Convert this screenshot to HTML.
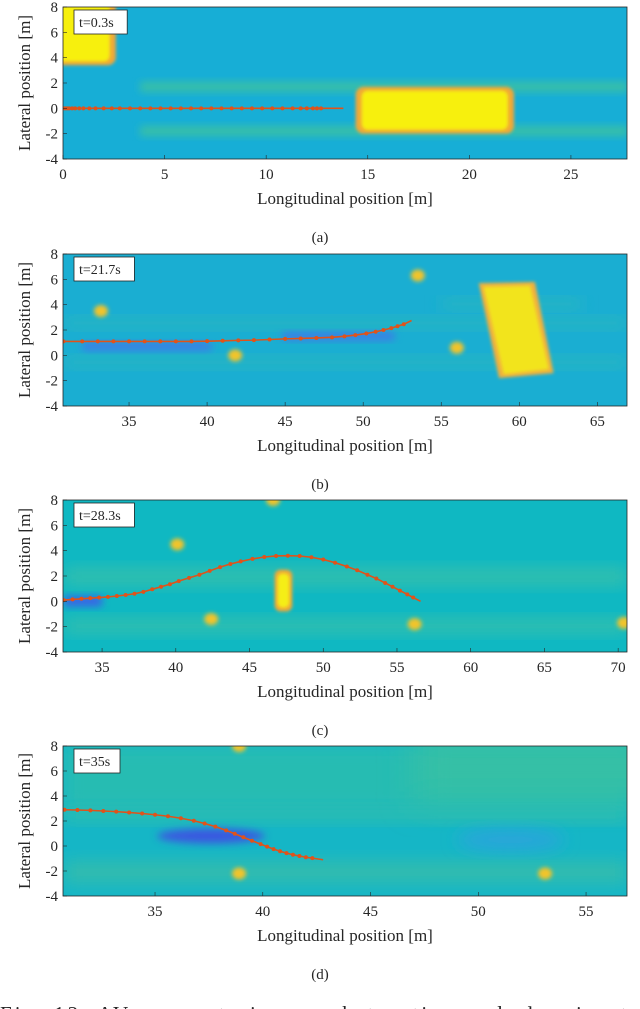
<!DOCTYPE html>
<html><head><meta charset="utf-8"><style>
html,body{margin:0;padding:0;background:#fff;width:640px;height:1009px;overflow:hidden}
svg text{font-family:"Liberation Serif",serif;fill:#262626}
</style></head><body>
<svg id="fig" width="640" height="1009" viewBox="0 0 640 1009" xmlns="http://www.w3.org/2000/svg">
<defs>
<filter id="b1" x="-50%" y="-50%" width="200%" height="200%"><feGaussianBlur stdDeviation="1.5"/></filter>
<filter id="b2" x="-50%" y="-50%" width="200%" height="200%"><feGaussianBlur stdDeviation="2"/></filter>
<filter id="b4" x="-50%" y="-50%" width="200%" height="200%"><feGaussianBlur stdDeviation="4"/></filter>
<filter id="b8" x="-50%" y="-50%" width="200%" height="200%"><feGaussianBlur stdDeviation="8"/></filter>
<filter id="b16" x="-50%" y="-50%" width="200%" height="200%"><feGaussianBlur stdDeviation="16"/></filter>
</defs>
<text x="0" y="1021" font-size="21" textLength="640" lengthAdjust="spacing">Fig. 13: AV encountering an obstruction and planning to</text>
</svg>
<script>
// Trajectory data (longitudinal x [m], lateral y [m])
const trajA_x = [0,0.1,0.2,0.3,0.45,0.6,0.8,1.0,1.3,1.6,2.0,2.4,2.8,3.3,3.8,4.3,4.8,5.3,5.8,6.3,6.8,7.3,7.8,8.3,8.8,9.3,9.8,10.3,10.8,11.3,11.7,12.0,12.3,12.5,12.7,13.8];
const trajA_y = [0,0,0,0,0,0,0,0,0,0,0,0,0,0,0,0,0,0,0,0,0,0,0,0,0,0,0,0,0,0,0,0,0,0,0,0];
const trajB_x = [30.8,32,33,34,35,36,37,38,39,40,41,42,43,44,45,46,47,48,48.8,49.5,50.2,50.8,51.3,51.8,52.2,52.6,53.1];
const trajB_y = [1.1,1.1,1.1,1.1,1.1,1.1,1.1,1.1,1.1,1.12,1.15,1.18,1.2,1.25,1.3,1.33,1.37,1.42,1.5,1.6,1.72,1.86,2.0,2.15,2.3,2.45,2.75];
const trajC_x = [32.4,33,33.6,34.2,34.8,35.4,36,36.6,37.2,37.8,38.4,39,39.6,40.2,40.9,41.6,42.3,43,43.7,44.4,45.2,46,46.8,47.6,48.4,49.2,50,50.8,51.6,52.3,53,53.6,54.2,54.7,55.2,55.7,56.1,56.6];
const trajC_y = [0.1,0.15,0.2,0.25,0.3,0.35,0.42,0.5,0.6,0.75,0.95,1.15,1.35,1.6,1.85,2.1,2.4,2.7,2.95,3.15,3.35,3.5,3.58,3.6,3.58,3.48,3.3,3.05,2.75,2.45,2.1,1.8,1.45,1.15,0.85,0.55,0.3,0.0];
const trajD_x = [30.8,31.4,32,32.6,33.2,33.8,34.4,35,35.6,36.2,36.8,37.3,37.8,38.3,38.7,39.1,39.5,39.9,40.2,40.5,40.8,41.1,41.4,41.7,42,42.3,42.8];
const trajD_y = [2.9,2.88,2.85,2.8,2.75,2.68,2.6,2.5,2.38,2.22,2.02,1.8,1.55,1.25,0.98,0.7,0.42,0.15,-0.05,-0.25,-0.42,-0.57,-0.7,-0.8,-0.9,-0.97,-1.1];
const yTicks = [-4,-2,0,2,4,6,8];
const xTicksA = [0,5,10,15,20,25];
const xTicksB = [35,40,45,50,55,60,65];
const xTicksC = [35,40,45,50,55,60,65,70];
const xTicksD = [35,40,45,50,55];
const labels = ["t=0.3s","t=21.7s","t=28.3s","t=35s"];
const captions = ["(a)","(b)","(c)","(d)"];

const NS="http://www.w3.org/2000/svg";
const svg=document.getElementById('fig');
function mk(tag,attrs,parent){const e=document.createElementNS(NS,tag);for(const k in attrs)e.setAttribute(k,attrs[k]);(parent||svg).appendChild(e);return e;}

const panels=[
 {id:'a',top:7,bot:159,x0:0,x1:27.76,bg:'#17aed6',xt:xTicksA,tx:trajA_x,ty:trajA_y,
  shapes:[
   ['rect',3.8,1.3,27.8,2.1,'#38bfa8','b4',0],
   ['rect',3.8,-2.2,27.8,-1.4,'#38bfa8','b4',0],
   ['rect',-1,3.4,2.6,9,'#f0a838','b1',8],
   ['rect',-1,3.7,2.3,9,'#f7f010','b1',6],
   ['rect',14.4,-2.0,22.2,1.7,'#f0a838','b1',8],
   ['rect',14.7,-1.7,21.9,1.4,'#f7f010','b1',6]]},
 {id:'b',top:254,bot:406,x0:30.77,x1:66.9,bg:'#1aaed2',xt:xTicksB,tx:trajB_x,ty:trajB_y,
  shapes:[
   ['rect',30.8,2.2,66.9,2.9,'#2bb8bb','b8',0],
   ['rect',30.8,-0.9,66.9,-0.2,'#2bb8bb','b8',0],
   ['rect',55,3.7,64,4.4,'#2bb8bb','b8',0],
   ['rect',32,0.4,40.3,1.0,'#3f78e8','b4',2],
   ['rect',44.8,1.2,52,1.8,'#3f78e8','b4',2],
   ['circ',33.2,3.5,0.7,'#f1c42a','b2'],
   ['circ',41.8,0.0,0.7,'#f1c42a','b2'],
   ['circ',53.5,6.3,0.7,'#f1c42a','b2'],
   ['circ',56,0.6,0.7,'#f1c42a','b2'],
   ['poly',[[57.4,5.7],[61.0,5.8],[62.2,-1.4],[58.7,-1.8]],'#f0b040','b1'],
   ['poly',[[57.7,5.4],[60.7,5.5],[61.9,-1.1],[59.0,-1.5]],'#f2e41e','b1']]},
 {id:'c',top:500,bot:652,x0:32.35,x1:70.6,bg:'#0fb8c2',xt:xTicksC,tx:trajC_x,ty:trajC_y,
  shapes:[
   ['rect',32.4,1.3,70.6,2.6,'#35c0ac','b8',0],
   ['rect',32.4,-2.5,70.6,-1.4,'#35c0ac','b8',0],
   ['rect',32.4,-0.4,35,0.4,'#3a60e8','b4',2],
   ['circ',40.1,4.5,0.7,'#f1c42a','b2'],
   ['circ',46.6,8,0.7,'#f1c42a','b2'],
   ['circ',42.4,-1.4,0.7,'#f1c42a','b2'],
   ['circ',56.2,-1.8,0.7,'#f1c42a','b2'],
   ['circ',70.4,-1.7,0.7,'#f1c42a','b2'],
   ['rect',46.7,-0.8,47.9,2.5,'#f0a838','b1',6],
   ['rect',46.9,-0.5,47.7,2.2,'#f5ee14','b1',5]]},
 {id:'d',top:746,bot:896,x0:30.73,x1:56.9,bg:'#15b6c6',xt:xTicksD,tx:trajD_x,ty:trajD_y,
  shapes:[
   ['rect',30.8,3.0,56.9,8.0,'#25bcb2','b8',0],
   ['rect',47,3.5,60,9,'#35c0a6','b16',0],
   ['rect',30.8,-3,56.9,-1.2,'#30bcae','b8',0],
   ['rect',30.8,2.0,56.9,3.0,'#2fbeae','b8',0],
   ['ell',37.6,0.8,2.5,0.6,'#3a58e0','b4'],
   ['ell',51.5,0.5,2.5,0.8,'#2aa4dc','b8'],
   ['circ',38.9,8,0.7,'#f1c42a','b2'],
   ['circ',38.9,-2.2,0.7,'#f1c42a','b2'],
   ['circ',53.1,-2.2,0.7,'#f1c42a','b2']]}
];
const L=63,R=627;
panels.forEach((p,i)=>{
 const g=mk('g',{});
 
 
 const sx=v=>L+(v-p.x0)/(p.x1-p.x0)*(R-L);
 const sy=v=>p.bot-(v+4)/12*(p.bot-p.top);
 const cp=mk('clipPath',{id:'cp'+p.id},g);
 mk('rect',{x:L,y:p.top,width:R-L,height:p.bot-p.top},cp);
 const pg=mk('g',{'clip-path':'url(#cp'+p.id+')'},g);
 const bg=mk('rect',{x:L,y:p.top,width:R-L,height:p.bot-p.top,fill:p.bg},pg);
 
 
 p.shapes.forEach(s=>{
  let e;
  if(s[0]==='rect'){e=mk('rect',{x:sx(s[1]),y:sy(s[4]),width:sx(s[3])-sx(s[1]),height:sy(s[2])-sy(s[4]),rx:s[7],fill:s[5],filter:'url(#'+s[6]+')'},pg);}
  else if(s[0]==='circ'){e=mk('ellipse',{cx:sx(s[1]),cy:sy(s[2]),rx:7,ry:6,fill:s[4],filter:'url(#'+s[5]+')'},pg);}
  else if(s[0]==='ell'){e=mk('ellipse',{cx:sx(s[1]),cy:sy(s[2]),rx:sx(s[1]+s[3])-sx(s[1]),ry:sy(0)-sy(s[4]),fill:s[5],filter:'url(#'+s[6]+')'},pg);}
  else {e=mk('polygon',{points:s[1].map(q=>sx(q[0])+','+sy(q[1])).join(' '),fill:s[2],filter:'url(#'+s[3]+')'},pg);}
  
  
 });
 const pts=p.tx.map((x,k)=>sx(x)+','+sy(p.ty[k])).join(' ');
 const line=mk('polyline',{points:pts,fill:'none',stroke:'#e0531a','stroke-width':1.6},pg);
 
 
 p.tx.forEach((x,k)=>{if(k===p.tx.length-1)return;
  const c=mk('circle',{cx:sx(x),cy:sy(p.ty[k]),r:2,fill:'#e0531a'},pg);
  
  
 });
 const ax=mk('rect',{x:L,y:p.top,width:R-L,height:p.bot-p.top,fill:'none',stroke:'#262626','stroke-width':0.8},g);
 
 
 yTicks.forEach(v=>{
  mk('line',{x1:L,x2:L+4,y1:sy(v),y2:sy(v),stroke:'#262626','stroke-width':0.6},g);
  const t=mk('text',{x:L-5,y:sy(v)+5,'font-size':15,'text-anchor':'end'},g);
  t.textContent=v;
  
  
 });
 p.xt.forEach(v=>{
  mk('line',{x1:sx(v),x2:sx(v),y1:p.bot,y2:p.bot-4,stroke:'#262626','stroke-width':0.6},g);
  const t=mk('text',{x:sx(v),y:p.bot+20,'font-size':15,'text-anchor':'middle'},g);
  t.textContent=v;
  
  
 });
 const xl=mk('text',{x:345,y:p.bot+45,'font-size':17,'text-anchor':'middle'},g);
 xl.textContent='Longitudinal position [m]';
 
 
 const cy=(p.top+p.bot)/2;
 const yl=mk('text',{x:0,y:0,'font-size':17,'text-anchor':'middle',transform:'translate(30,'+cy+') rotate(-90)'},g);
 yl.textContent='Lateral position [m]';
 
 
 const w=labels[i].length*7.2+10;
 const box=mk('rect',{x:L+11,y:p.top+3,width:w,height:24,fill:'#fff',stroke:'#262626','stroke-width':0.8},g);
 
 
 const tl=mk('text',{x:L+16,y:p.top+20,'font-size':14},g);
 tl.textContent=labels[i];
 
 
 const cap=mk('text',{x:320,y:p.bot+83,'font-size':15,'text-anchor':'middle'},g);
 cap.textContent=captions[i];
 
 
});
</script>
</body></html>
